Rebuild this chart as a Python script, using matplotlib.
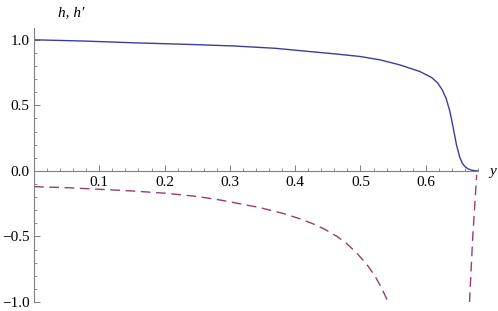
import matplotlib.pyplot as plt
from matplotlib.ticker import MultipleLocator, FixedLocator

# curva h (linea continua)
y_h = [0.0, 0.08, 0.153, 0.23, 0.306, 0.37, 0.423, 0.46, 0.499, 0.53, 0.56,
       0.591, 0.609, 0.618, 0.625, 0.631, 0.637, 0.642, 0.647, 0.652, 0.656, 0.66,
       0.665, 0.67, 0.675, 0.68]
h = [1.0, 0.99, 0.977, 0.966, 0.953, 0.935, 0.91, 0.893, 0.873, 0.847, 0.809,
     0.758, 0.712, 0.672, 0.62, 0.555, 0.453, 0.33, 0.2, 0.105, 0.058, 0.033,
     0.015, 0.006, 0.002, 0.0]

# curva h' (discontinua), dos ramas
y_dh1 = [0.0, 0.05, 0.1, 0.15, 0.2, 0.25, 0.285, 0.346, 0.382, 0.407, 0.428,
         0.446, 0.464, 0.479, 0.494, 0.51, 0.522, 0.532, 0.541, 0.543]
dh1 = [-0.12, -0.128, -0.14, -0.153, -0.17, -0.195, -0.222, -0.28, -0.325, -0.365,
       -0.405, -0.447, -0.50, -0.555, -0.625, -0.715, -0.80, -0.89, -0.985, -1.0]
y_dh2 = [0.667, 0.672, 0.678]
dh2 = [-1.0, -0.5, -0.03]

x_ticks = [0.1, 0.2, 0.3, 0.4, 0.5, 0.6]
x_labels = ["0.1", "0.2", "0.3", "0.4", "0.5", "0.6"]
y_ticks = [-1.0, -0.5, 0.0, 0.5, 1.0]
y_labels = ["\u22121.0", "\u22120.5", "0.0", "0.5", "1.0"]

COL_H = "#3d3d99"
COL_DH = "#993d71"
COL_EJE = "#7f7f7f"
FUENTE = "Liberation Serif"

fig = plt.figure(figsize=(4.98, 3.11), dpi=100)
ax = fig.add_axes([34 / 498, 1 - 302 / 311, (478 - 34) / 498, (302 - 28) / 311])

ax.plot(y_h, h, color=COL_H, lw=1.0)
ax.plot(y_dh1, dh1, color=COL_DH, lw=1.0, ls=(0, (7, 4)))
ax.plot(y_dh2, dh2, color=COL_DH, lw=1.0, ls=(0, (7, 4)))

ax.set_xlim(0, 0.68)
ax.set_ylim(-1.0, 1.09)

# ejes estilo Mathematica
ax.spines["top"].set_visible(False)
ax.spines["right"].set_visible(False)
ax.spines["bottom"].set_position(("data", 0))
ax.spines["left"].set_bounds(-1.0, 1.09)
for s in ("left", "bottom"):
    ax.spines[s].set_color(COL_EJE)
    ax.spines[s].set_linewidth(0.8)

ax.xaxis.set_major_locator(FixedLocator(x_ticks))
ax.xaxis.set_minor_locator(MultipleLocator(0.02))
ax.yaxis.set_major_locator(FixedLocator(y_ticks))
ax.yaxis.set_minor_locator(MultipleLocator(0.1))
ax.set_xticklabels(x_labels, fontfamily=FUENTE, fontsize=11)
ax.set_yticklabels(y_labels, fontfamily=FUENTE, fontsize=11)

ax.tick_params(axis="x", which="both", direction="in", color=COL_EJE, pad=4)
ax.tick_params(axis="y", which="both", direction="in", color=COL_EJE, pad=3)
ax.tick_params(which="major", length=4, width=0.7)
ax.tick_params(which="minor", length=2.2, width=0.6)

fig.text(58 / 498, 1 - 13 / 311, "h, h\u2032", fontsize=11, style="italic",
         va="center", fontfamily=FUENTE)
fig.text(489 / 498, 1 - 172 / 311, "y", fontsize=11, style="italic",
         va="center", fontfamily=FUENTE)

fig.savefig("out.png", dpi=100)
